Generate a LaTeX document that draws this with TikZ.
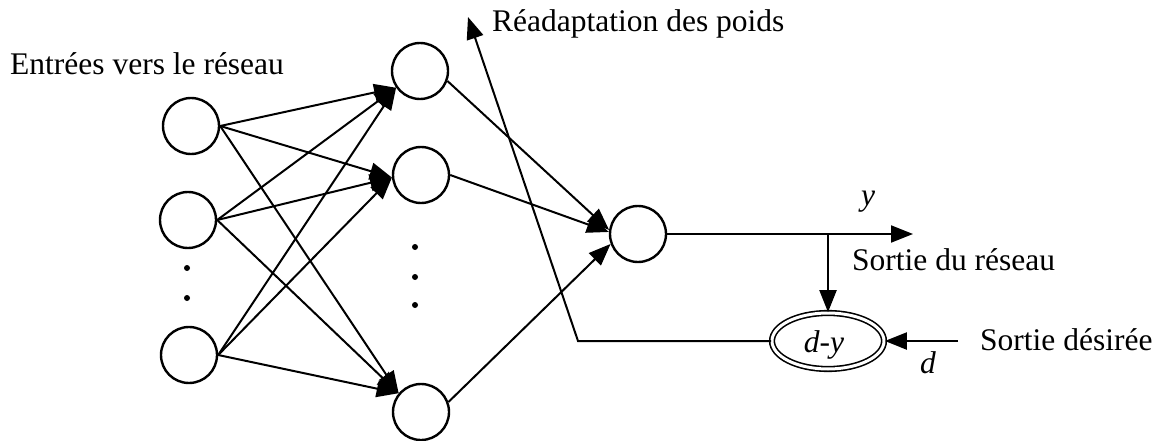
\documentclass[tikz,border=0pt]{standalone}
\usepackage{fontspec}
\setmainfont{Liberation Serif}
\usetikzlibrary{arrows.meta,shapes.geometric}
\begin{document}
\begin{tikzpicture}[x=1pt,y=-1pt,
  neuron/.style={circle,draw,line width=2.4pt,minimum size=56pt,inner sep=0pt},
  arr/.style={line width=2pt,-{Triangle[length=22pt,width=17pt]}},
  conn/.style={line width=2pt},
  lab/.style={font=\fontsize{31.5}{36}\selectfont,inner sep=0pt,anchor=base west},
  dotn/.style={circle,fill,inner sep=0pt,minimum size=6pt}]
\useasboundingbox (0,0) rectangle (1168,441);
% inputs
\node[neuron] (i1) at (191,126) {};
\node[neuron] (i2) at (188,220) {};
\node[neuron] (i3) at (189,355) {};
\node[dotn] (di1) at (187,268) {};
\node[dotn] (di2) at (187,298) {};
% hidden
\node[neuron] (h1) at (420,71) {};
\node[neuron] (h2) at (421,175) {};
\node[neuron] (h3) at (421,412) {};
\node[dotn] (dh1) at (415,247) {};
\node[dotn] (dh2) at (415,277) {};
\node[dotn] (dh3) at (415,305) {};
% output
\node[neuron] (o) at (638,234) {};
% error ellipse
\node[ellipse,draw,line width=1.6pt,double,double distance=3pt,minimum width=112pt,minimum height=56pt,inner sep=0pt] (e) at (828,341) {};
\node[lab,anchor=base] (dy) at (824,352) {\textit{d-y}};
% labels
\node[lab] (lin) at (10,75) {Entrées vers le réseau};
\node[lab] (lre) at (492,32) {Réadaptation des poids};
\node[lab] (ly) at (861,205) {\textit{y}};
\node[lab] (lso) at (852,270) {Sortie du réseau};
\node[lab] (lsd) at (980,350) {Sortie désirée};
\node[lab] (ld) at (920,373) {\textit{d}};
% coordinates
\coordinate (b) at (828,234);
\coordinate (yend) at (913,234);
\coordinate (dstart) at (958,341);
\coordinate (c) at (578,341);
\coordinate (fb) at (468,17);
% input -> hidden
\foreach \i in {i1,i2,i3}{
  \draw[arr] (\i.east) -- (h1.215);
  \draw[arr] (\i.east) -- (h2.185);
  \draw[arr] (\i.east) -- (h3.140);
}
% hidden -> output
\draw[arr] (h1.-20) -- (o.172);
\draw[arr] (h2.east) -- (o.176);
\draw[arr] (h3.20) -- (o.200);
% output
\draw[arr] (o.east) -- (yend);
\draw[arr] (b) -- (e.north);
\draw[arr] (dstart) -- (e.east);
\draw[arr] (e.west) -- (c) -- (fb);
\end{tikzpicture}
\end{document}
